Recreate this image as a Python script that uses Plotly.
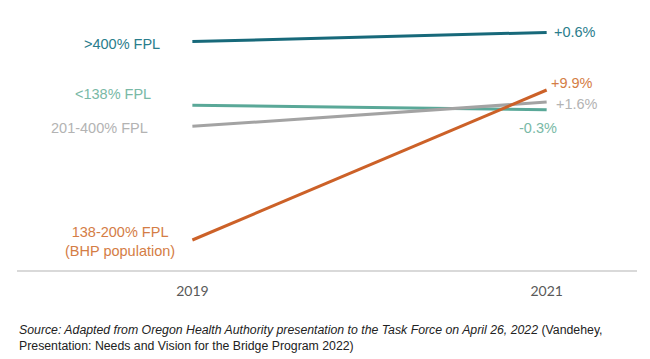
import plotly.graph_objects as go

years = [2019, 2021]
series_names = [">400% FPL", "<138% FPL", "201-400% FPL", "138-200% FPL<br>(BHP population)"]
rate_gt400 = [95.1, 95.7]
rate_lt138 = [90.9, 90.6]
rate_201_400 = [89.5, 91.1]
rate_138_200 = [82.0, 91.9]
change_labels = ["+0.6%", "-0.3%", "+1.6%", "+9.9%"]

values = [rate_gt400, rate_lt138, rate_201_400, rate_138_200]
line_colors = ["#17697a", "#5aa898", "#a3a3a3", "#cc6128"]
text_colors = ["#2a7d8c", "#79b9a6", "#b3b3b3", "#d47d45"]

fig = go.Figure()
for name, vals, lc in zip(series_names, values, line_colors):
    fig.add_trace(go.Scatter(x=years, y=vals, mode="lines", name=name,
                             line=dict(color=lc, width=3), showlegend=False,
                             hoverinfo="skip"))

font = "Liberation Sans, Arial, sans-serif"
fs = 14.5
# left labels
left_specs = [
    (0, -30, -2),
    (1, -39, 11),
    (2, -42, -2),
]
for i, dx, dy in left_specs:
    fig.add_annotation(x=years[0], y=values[i][0], text=series_names[i],
                       xref="x", yref="y", showarrow=False, xanchor="right",
                       xshift=dx, yshift=dy, font=dict(family=font, size=fs, color=text_colors[i]))
fig.add_annotation(x=years[0], y=values[3][0], text=series_names[3],
                   xref="x", yref="y", showarrow=False, xanchor="center", align="center",
                   xshift=-72.5, yshift=-1.5, font=dict(family=font, size=fs, color=text_colors[3]))

# right labels
right_specs = [
    (0, 5, 0),
    (3, 2, 7),
    (2, 7, -2),
    (1, -30, -18),
]
for i, dx, dy in right_specs:
    fig.add_annotation(x=years[1], y=values[i][1], text=change_labels[i],
                       xref="x", yref="y", showarrow=False, xanchor="left",
                       xshift=dx, yshift=dy, font=dict(family=font, size=fs, color=text_colors[i]))

fig.add_annotation(
    x=0, y=-0.26, xref="paper", yref="paper", xanchor="left", yanchor="middle", showarrow=False,
    align="left",
    text=("<i>Source: Adapted from Oregon Health Authority presentation to the Task Force on April 26, 2022</i>"
          " (Vandehey,<br>Presentation: Needs and Vision for the Bridge Program 2022)"),
    font=dict(family=font, size=12.3, color="#222222"))

fig.update_layout(
    width=642, height=351,
    paper_bgcolor="white", plot_bgcolor="white",
    margin=dict(l=9, r=13, t=2, b=89),
    xaxis=dict(range=[2018.01, 2021.51], tickvals=years, ticktext=["2019", "2021"],
               showgrid=False, zeroline=False, showline=True, linecolor="#d9d9d9", linewidth=2,
               ticks="", ticklabelstandoff=7,
               tickfont=dict(family="Lato, Carlito, sans-serif", size=14, color="#595959")),
    yaxis=dict(range=[80.02, 97.18], visible=False, showgrid=False, zeroline=False),
)

fig.write_html("out.html")
